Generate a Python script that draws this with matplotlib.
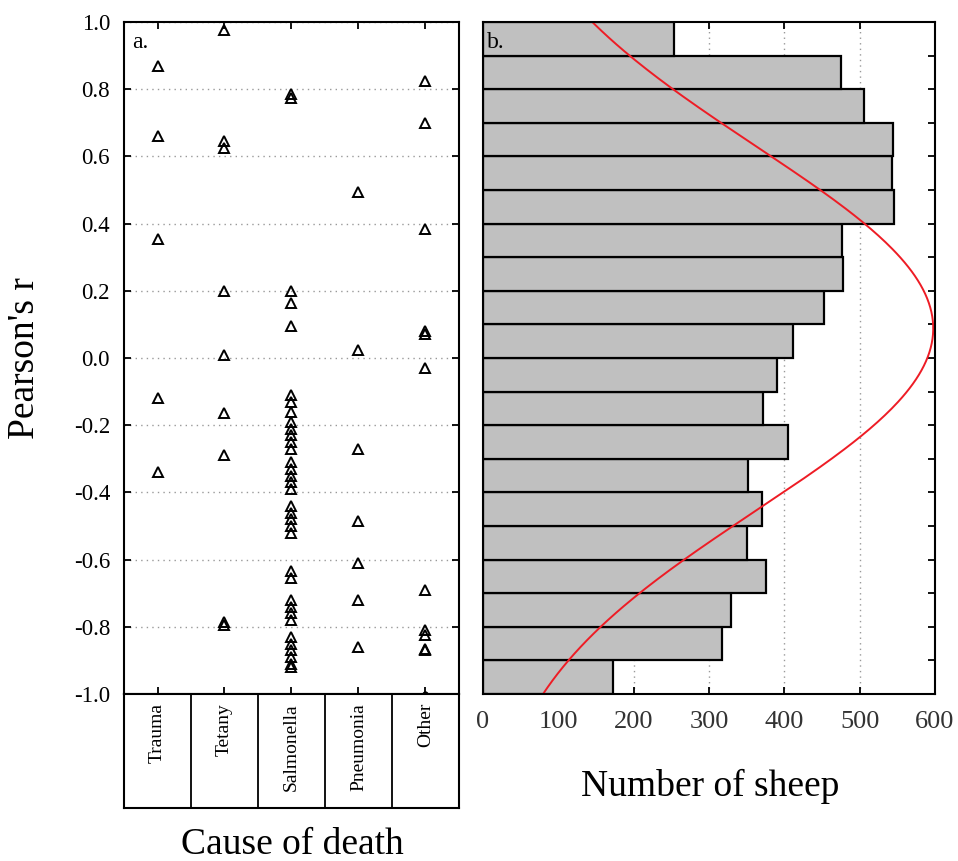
import numpy as np
import matplotlib.pyplot as plt

plt.rcParams['font.family'] = ['Liberation Serif', 'DejaVu Serif']

# Panel a: correlation per flock, grouped by cause of death
causes = ['Trauma', 'Tetany', 'Salmonella', 'Pneumonia', 'Other']
r_trauma = [0.87, 0.66, 0.355, -0.12, -0.34]
r_tetany = [0.975, 0.645, 0.625, 0.20, 0.01, -0.165, -0.29, -0.785, -0.795]
r_salmonella = [0.785, 0.775, 0.20, 0.165, 0.095,
                -0.11, -0.13, -0.16, -0.19, -0.21, -0.23, -0.25, -0.27,
                -0.31, -0.33, -0.35, -0.37, -0.39,
                -0.44, -0.46, -0.48, -0.50, -0.52,
                -0.635, -0.655, -0.72, -0.74, -0.76, -0.78,
                -0.83, -0.85, -0.87, -0.89, -0.91, -0.92]
r_pneumonia = [0.495, 0.025, -0.27, -0.485, -0.61, -0.72, -0.86]
r_other = [0.825, 0.70, 0.385, 0.08, 0.07, -0.03, -0.69, -0.81, -0.825, -0.865, -0.87]
r_other_dot = [-1.0]
r_ticks = [-1.0, -0.8, -0.6, -0.4, -0.2, 0.0, 0.2, 0.4, 0.6, 0.8, 1.0]

# Panel b: histogram of r over all sheep (bins of 0.1 from -1 to 1)
bin_lo = [-1.0, -0.9, -0.8, -0.7, -0.6, -0.5, -0.4, -0.3, -0.2, -0.1,
          0.0, 0.1, 0.2, 0.3, 0.4, 0.5, 0.6, 0.7, 0.8, 0.9]
sheep_counts = [173, 317, 329, 375, 350, 370, 352, 405, 372, 390,
                412, 452, 478, 477, 546, 543, 544, 506, 475, 254]
bin_w = 0.1

fig = plt.figure(figsize=(9.58, 8.61), dpi=100)

# ---- panel a
ax = fig.add_axes([124/958, 1-694/861, 335/958, 672/861])
groups = [r_trauma, r_tetany, r_salmonella, r_pneumonia, r_other]
for i, vals in enumerate(groups):
    ax.plot([i+1]*len(vals), vals, ls='none', marker='^', ms=7, mfc='none',
            mec='black', mew=1.4, clip_on=False)
ax.plot([5]*len(r_other_dot), r_other_dot, ls='none', marker='o', ms=3.5,
        color='black', clip_on=False)
ax.set_xlim(0.5, 5.5)
ax.set_ylim(-1.0, 1.0)
ax.set_xticks(range(1, 6))
ax.set_yticks(r_ticks)
ax.set_yticklabels([f'{v:.1f}' for v in r_ticks])
ax.tick_params(direction='in', top=True, right=True, length=5, width=1.3,
               labelbottom=False, labelsize=16.5, pad=10)
ax.yaxis.grid(True, ls=(0, (1, 3)), color='#999999', lw=1)
for s in ax.spines.values():
    s.set_linewidth(1.5)
ax.set_ylabel("Pearson's r", fontsize=27)
ax.yaxis.set_label_coords(-0.245, 0.5)
ax.text(0.025, 0.985, 'a.', transform=ax.transAxes, fontsize=17, va='top')

# category label box under panel a
axc = fig.add_axes([124/958, 1-808/861, 335/958, 114/861])
axc.set_xlim(0.5, 5.5)
axc.set_ylim(0, 1)
axc.set_xticks([])
axc.set_yticks([])
for s in axc.spines.values():
    s.set_linewidth(1.5)
for i, name in enumerate(causes):
    if i > 0:
        axc.axvline(i + 0.5, color='black', lw=1.3)
    axc.text(i + 1, 0.92, name, rotation=90, ha='center', va='top', fontsize=14)
fig.text(292/958, 1-845/861, 'Cause of death', ha='center', va='center', fontsize=27)

# ---- panel b
ax2 = fig.add_axes([483/958, 1-694/861, 452/958, 672/861])
centers = np.array(bin_lo) + bin_w/2
counts = np.array(sheep_counts)
ax2.barh(centers, counts, height=bin_w, color='#c0c0c0', edgecolor='black', lw=1.6)

# normal curve fitted to the histogram
n_tot = counts.sum()
mu = (centers*counts).sum()/n_tot
sd = np.sqrt(((centers-mu)**2*counts).sum()/n_tot)
rr = np.linspace(-1.0, 1.0, 300)
fit = n_tot*bin_w*np.exp(-(rr-mu)**2/(2*sd**2))/(sd*np.sqrt(2*np.pi))
ax2.plot(fit, rr, color='#ee1c25', lw=1.4)

ax2.set_xlim(0, 600)
ax2.set_ylim(-1.0, 1.0)
ax2.set_axisbelow(True)
ax2.xaxis.grid(True, ls=(0, (1, 3)), color='#999999', lw=1)
ax2.set_xticks(range(0, 601, 100))
ax2.set_yticks(np.round(np.arange(-1.0, 1.01, 0.1), 1))
ax2.yaxis.tick_right()
ax2.tick_params(axis='y', direction='in', length=5, width=1.3, labelright=False)
ax2.tick_params(axis='x', direction='in', top=True, length=5, width=1.3,
                labelsize=19, pad=12, labelcolor='#333333')
for s in ax2.spines.values():
    s.set_linewidth(1.5)
ax2.text(0.008, 0.985, 'b.', transform=ax2.transAxes, fontsize=17, va='top')
fig.text(710/958, 1-786/861, 'Number of sheep', ha='center', va='center', fontsize=27)

fig.savefig('out.png', dpi=100)
